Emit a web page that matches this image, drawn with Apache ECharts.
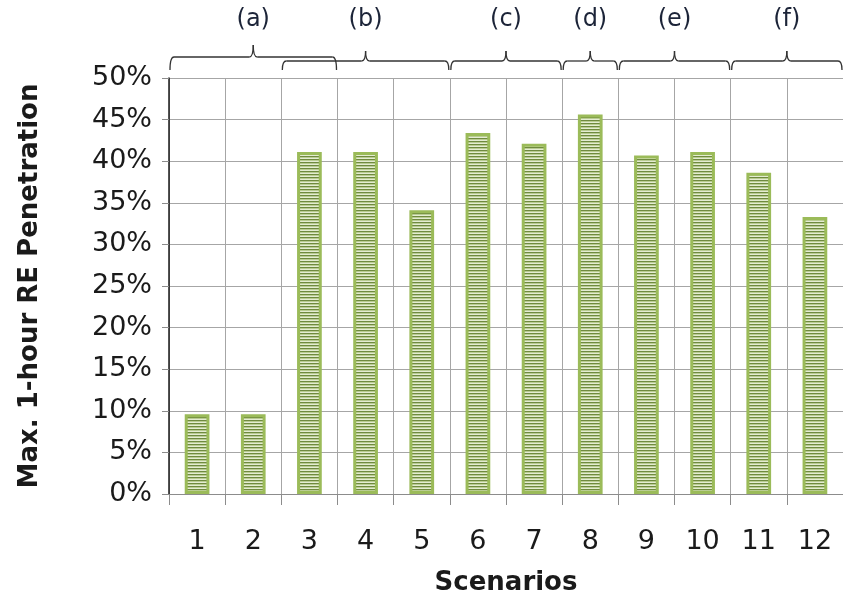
<!DOCTYPE html>
<html>
<head>
<meta charset="utf-8">
<script src="https://cdn.jsdelivr.net/npm/echarts@6/dist/echarts.min.js"></script>
<style>html,body{margin:0;padding:0;background:#fff;}#c{width:843px;height:601px;}</style>
</head>
<body>
<div id="c"></div>
<script>
const categories = ['1','2','3','4','5','6','7','8','9','10','11','12'];
const penetration = [0.096, 0.096, 0.411, 0.411, 0.341, 0.434, 0.421, 0.456, 0.407, 0.411, 0.386, 0.333];
const yTicks = [0,0.05,0.10,0.15,0.20,0.25,0.30,0.35,0.40,0.45,0.50];
const groupLabels = ['(a)','(b)','(c)','(d)','(e)','(f)'];
const groupFirst = [0, 2, 5, 7, 8, 10];
const groupLast  = [2, 4, 6, 7, 9, 11];

function stripePattern(){
  const c = document.createElement('canvas');
  c.width = 8; c.height = 3;
  const g = c.getContext('2d');
  g.fillStyle = '#6f8a3f'; g.fillRect(0,0,8,1);
  g.fillStyle = '#b9cc92'; g.fillRect(0,1,8,1);
  g.fillStyle = '#e4ecd2'; g.fillRect(0,2,8,1);
  return c;
}

const chart = echarts.init(document.getElementById('c'), null, {renderer:'canvas'});
const FONT = 'DejaVu Sans';
chart.setOption({
  animation: false,
  backgroundColor: '#fff',
  grid: {left:169, top:78, width:677, height:416, containLabel:false},
  xAxis: {
    type: 'category',
    data: categories,
    boundaryGap: true,
    name: 'Scenarios',
    nameLocation: 'middle',
    nameGap: 76,
    nameTextStyle: {fontFamily: FONT, fontSize: 26, fontWeight: 'bold', color: '#1a1a1a'},
    axisLine: {show:true, lineStyle:{color:'#8c8c8c', width:1}},
    axisTick: {show:true, length:11, lineStyle:{color:'#8c8c8c'}},
    axisLabel: {fontFamily: FONT, fontSize: 27, color:'#1a1a1a', margin: 34},
    splitLine: {show:true, lineStyle:{color:'#a6a6a6', width:1}}
  },
  yAxis: {
    type: 'value',
    min: 0, max: 0.5, interval: 0.05,
    name: 'Max. 1-hour RE Penetration',
    nameLocation: 'middle',
    nameGap: 126,
    nameTextStyle: {fontFamily: FONT, fontSize: 26, fontWeight: 'bold', color: '#1a1a1a'},
    axisLine: {show:true, lineStyle:{color:'#1a1a1a', width:1.5}},
    axisTick: {show:true, length:7, lineStyle:{color:'#8c8c8c'}},
    axisLabel: {fontFamily: FONT, fontSize: 27, color:'#1a1a1a', margin: 17,
      formatter: v => { const t = yTicks.find(x => Math.abs(x - v) < 1e-9); return Math.round((t===undefined?v:t)*100) + '%'; }},
    splitLine: {show:true, lineStyle:{color:'#a6a6a6', width:1}}
  },
  series: [
    {
      type: 'bar',
      data: penetration,
      barWidth: '44%',
      itemStyle: {
        color: {image: stripePattern(), repeat: 'repeat'},
        borderColor: '#9bbb59',
        borderWidth: 3
      },
      z: 3
    },
    {
      type: 'custom',
      silent: true,
      clip: false,
      z: 10,
      encode: {x: 0, y: 1},
      data: groupFirst.map((f, i) => [f, 0]),
      renderItem: function(params, api){
        const i = params.dataIndex;
        const bw = api.size([1, 0])[0];
        const x1 = api.coord([groupFirst[i], 0])[0] - bw/2 + 1;
        const x2 = api.coord([groupLast[i], 0])[0] + bw/2 - 1;
        const top = params.coordSys.y;
        const lineY = top - (i === 0 ? 21 : 17);
        const endY = top - 8;
        const peakY = lineY - (i === 0 ? 12 : 10);
        const xc = (x1 + x2) / 2;
        const r = 4;
        const st = {stroke:'#333', lineWidth:1.3, fill:null};
        return {
          type: 'group',
          children: [
            {type:'bezierCurve', shape:{x1:x1, y1:endY, x2:x1+r, y2:lineY, cpx1:x1, cpy1:lineY}, style:st},
            {type:'line', shape:{x1:x1+r, y1:lineY, x2:xc-r, y2:lineY}, style:st},
            {type:'bezierCurve', shape:{x1:xc-r, y1:lineY, x2:xc, y2:peakY, cpx1:xc, cpy1:lineY}, style:st},
            {type:'bezierCurve', shape:{x1:xc, y1:peakY, x2:xc+r, y2:lineY, cpx1:xc, cpy1:lineY}, style:st},
            {type:'line', shape:{x1:xc+r, y1:lineY, x2:x2-r, y2:lineY}, style:st},
            {type:'bezierCurve', shape:{x1:x2-r, y1:lineY, x2:x2, y2:endY, cpx1:x2, cpy1:lineY}, style:st},
            {type:'text', style:{text: groupLabels[i], x: xc, y: top - 58, align:'center', verticalAlign:'middle',
              font: '24px "' + FONT + '"', fill:'#1c2438'}}
          ]
        };
      }
    }
  ]
});
</script>
</body>
</html>
